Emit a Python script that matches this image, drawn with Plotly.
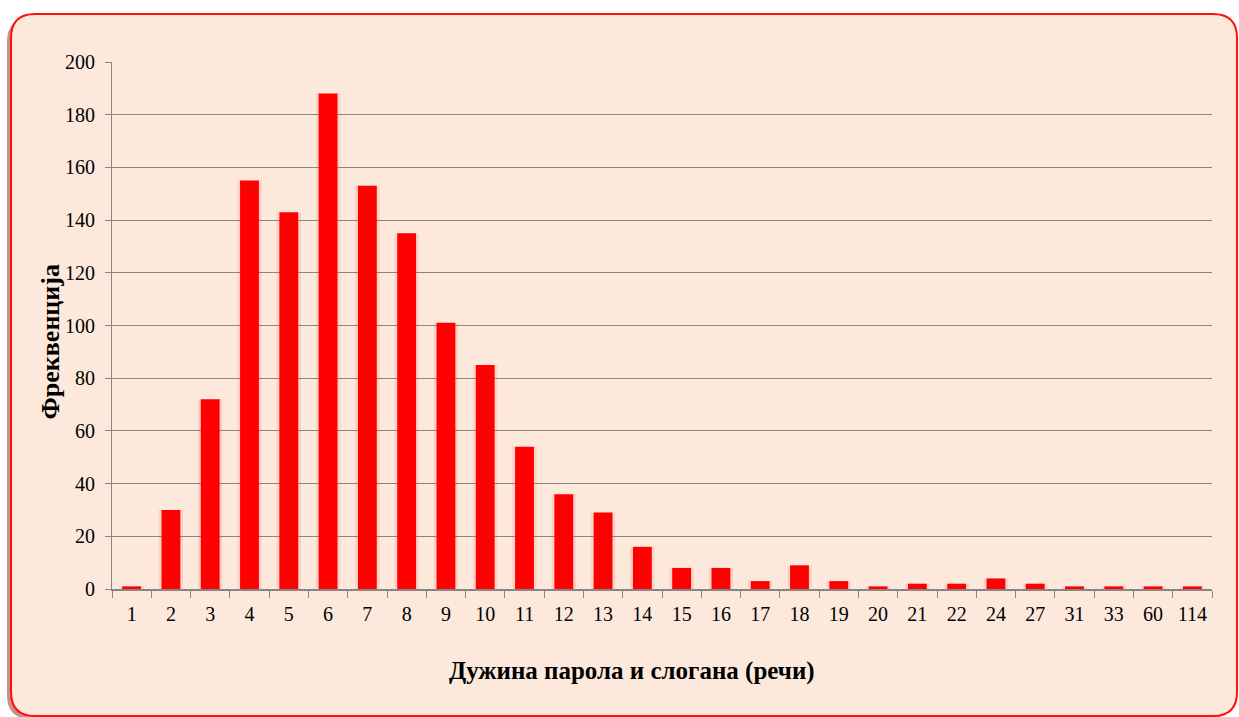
import plotly.graph_objects as go

categories = ["1", "2", "3", "4", "5", "6", "7", "8", "9", "10", "11", "12", "13", "14",
              "15", "16", "17", "18", "19", "20", "21", "22", "24", "27", "31", "33", "60", "114"]
frequencies = [1, 30, 72, 155, 143, 188, 153, 135, 101, 85, 54, 36, 29, 16,
               8, 8, 3, 9, 3, 1, 2, 2, 4, 2, 1, 1, 1, 1]
y_ticks = [0, 20, 40, 60, 80, 100, 120, 140, 160, 180, 200]

W, H = 1239, 717
L, R, T, B = 112, 27, 62, 128
PW, PH = W - L - R, H - T - B


def px(x):
    return (x - L) / PW


def py(y):
    return 1 - (y - T) / PH


def rounded_path(x0, y0, x1, y1, r):
    pts = [
        f"M {px(x0 + r)},{py(y0)}",
        f"L {px(x1 - r)},{py(y0)}",
        f"Q {px(x1)},{py(y0)} {px(x1)},{py(y0 + r)}",
        f"L {px(x1)},{py(y1 - r)}",
        f"Q {px(x1)},{py(y1)} {px(x1 - r)},{py(y1)}",
        f"L {px(x0 + r)},{py(y1)}",
        f"Q {px(x0)},{py(y1)} {px(x0)},{py(y1 - r)}",
        f"L {px(x0)},{py(y0 + r)}",
        f"Q {px(x0)},{py(y0)} {px(x0 + r)},{py(y0)}",
        "Z",
    ]
    return " ".join(pts)


fig = go.Figure()

fig.add_trace(go.Bar(
    x=categories, y=frequencies, width=0.62,
    marker=dict(color="rgba(255,60,60,0.13)", line=dict(width=0)),
    hoverinfo="skip", showlegend=False,
))
fig.add_trace(go.Bar(
    x=categories, y=frequencies, width=0.48,
    marker=dict(color="#FF0000", line=dict(width=0)),
    showlegend=False,
))

shapes = [
    dict(type="path", xref="paper", yref="paper", layer="below",
         path=rounded_path(7, 18, 1232, 719, 24),
         fillcolor="#C98E8E", line=dict(width=0)),
    dict(type="path", xref="paper", yref="paper", layer="below",
         path=rounded_path(11, 14, 1237, 716, 24),
         fillcolor="#FCE9DC", line=dict(color="#FF1010", width=2)),
]

fig.update_layout(
    width=W, height=H,
    margin=dict(l=L, r=R, t=T, b=B, pad=0),
    paper_bgcolor="white",
    plot_bgcolor="white",
    barmode="overlay",
    shapes=shapes,
    font=dict(family="Liberation Serif", size=20, color="black"),
    xaxis=dict(
        type="category", categoryorder="array", categoryarray=categories,
        showgrid=False, showline=True, linecolor="#868686", linewidth=2,
        ticks="outside", tickson="boundaries", ticklen=7, tickcolor="#868686",
        tickwidth=1, tickfont=dict(size=20), tickangle=0, ticklabelstandoff=6,
        range=[-0.5, len(categories) - 0.5],
    ),
    yaxis=dict(
        range=[0, 200], tickvals=y_ticks, showgrid=True, gridcolor="#868686",
        gridwidth=1, showline=True, linecolor="#868686", linewidth=1,
        ticks="outside", ticklen=6, tickcolor="#868686", zeroline=False,
        tickfont=dict(size=20), ticklabelstandoff=6,
    ),
    annotations=[
        dict(text="<b>Фреквенција</b>", xref="paper", yref="paper",
             x=px(33), y=py(342), textangle=-90, showarrow=False,
             font=dict(size=26, family="Liberation Serif")),
        dict(text="<b>Дужина парола и слогана (речи)</b>", xref="paper", yref="paper",
             x=px(632), y=py(687), showarrow=False,
             font=dict(size=25, family="Liberation Serif")),
    ],
)

fig.write_html(
    "out.html",
    config={"displayModeBar": False},
    post_script="document.body.style.margin='0';document.body.style.overflow='hidden';",
)
